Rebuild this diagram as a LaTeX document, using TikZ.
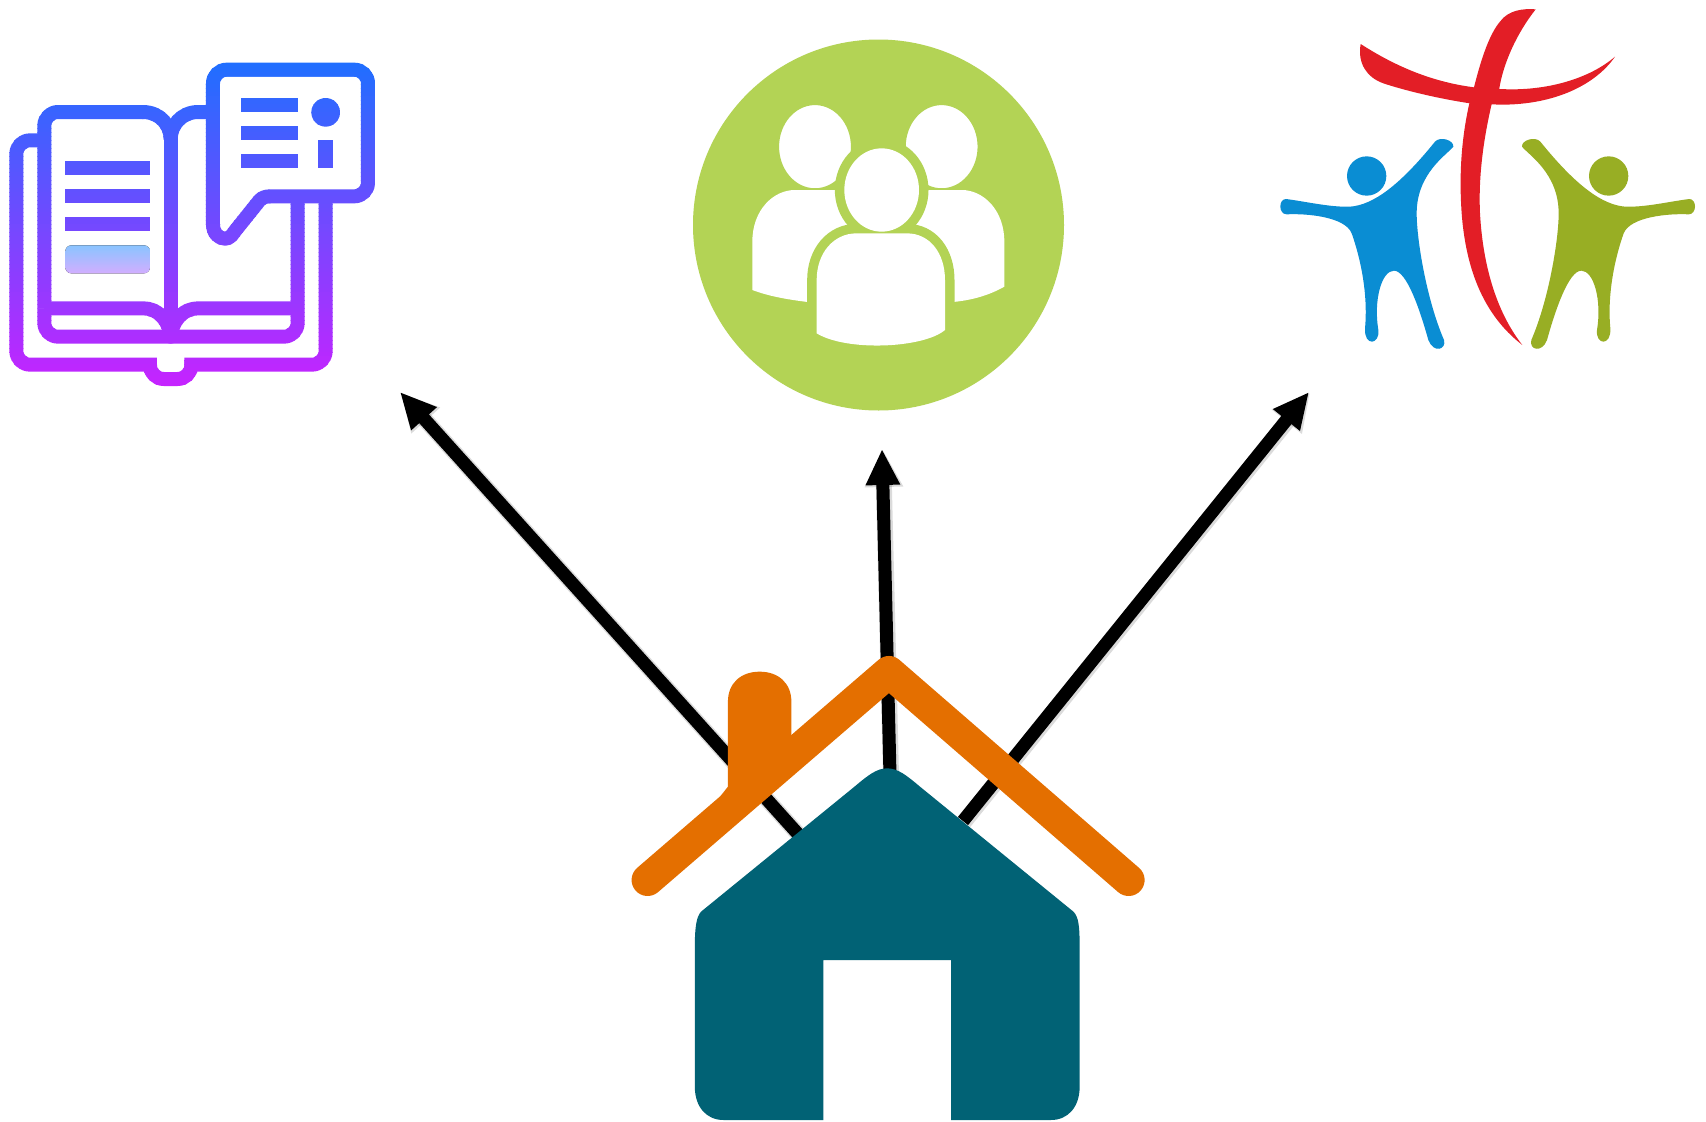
\documentclass[tikz,border=0pt]{standalone}
\usetikzlibrary{arrows.meta}
\definecolor{bookTop}{HTML}{1F6FFF}
\definecolor{bookBot}{HTML}{C822FF}
\definecolor{barTop}{HTML}{8AC4FF}
\definecolor{barBot}{HTML}{D2AEFF}
\definecolor{teamGreen}{HTML}{B3D355}
\definecolor{crossRed}{HTML}{E31E26}
\definecolor{kidBlue}{HTML}{0A8DD3}
\definecolor{kidGreen}{HTML}{98AE24}
\definecolor{houseTeal}{HTML}{016275}
\definecolor{roofOrange}{HTML}{E46F00}
\tikzset{
  iconline/.style={line width=14pt,line join=round},
  connector/.style={line width=13pt,-{Triangle[length=36pt,width=32pt]}},
  connshadow/.style={line width=16pt,-{Triangle[length=37pt,width=36pt]},black,opacity=.14},
  roofline/.style={draw=roofOrange,line width=32pt,line cap=round,line join=round},
}
% book icon, in zoomed units; strokes take the current colour
\newcommand{\bookicon}{%
  % back cover
  \draw[iconline,rounded corners=13.7pt] (140,271) -- (49,271) -- (49,944) -- (471,944);
  \draw[iconline,rounded corners=13.7pt] (450,930) -- (450,987) -- (574,987) -- (574,930);
  \draw[iconline,rounded corners=13.7pt] (553,944) -- (977,944) -- (977,440);
  % pages
  \draw[iconline,rounded corners=13.7pt] (133,775) -- (133,186) -- (430,186);
  \draw[iconline] (428,186) .. controls (480,186) and (512,225) .. (512,268);
  \draw[iconline] (512,268) .. controls (512,225) and (545,186) .. (595,186) -- (630,186);
  \draw[iconline] (512,268) -- (512,860);
  \draw[iconline,rounded corners=13.7pt] (133,775) -- (133,860) -- (893,860) -- (893,440);
  \draw[iconline] (133,775) -- (430,775) .. controls (470,775) and (505,805) .. (512,860)
    .. controls (519,805) and (554,775) .. (595,775) -- (893,775);
  % speech bubble
  \draw[iconline,rounded corners=13.7pt] (639,525) -- (639,59) -- (1104,59) -- (1104,439) -- (806,439);
  \draw[iconline] (810,439) .. controls (795,439) and (785,444) .. (778,452)
    -- (705,543) .. controls (695,558) and (687,566) .. (675,566)
    .. controls (655,566) and (639,548) .. (639,523);
  % text bars
  \fill (196,334) rectangle (450,376);
  \fill (196,418) rectangle (450,460);
  \fill (196,502) rectangle (450,544);
  \fill (723,144) rectangle (893,187);
  \fill (723,229) rectangle (893,271);
  \fill (723,313) rectangle (893,355);
  \fill (955,271) rectangle (998,355);
  \fill (977,187) circle[radius=43];
}
\newcommand{\kid}{%
  \fill (290,528) circle[radius=59];
  \fill (48,597) .. controls (110,605) and (180,622) .. (240,620)
    .. controls (310,615) and (390,555) .. (495,425)
    .. controls (510,408) and (552,420) .. (550,440)
    .. controls (530,465) and (440,520) .. (440,640)
    .. controls (440,720) and (470,900) .. (522,1020)
    .. controls (530,1050) and (490,1060) .. (475,1020)
    .. controls (450,930) and (410,812) .. (372,812)
    .. controls (335,812) and (310,900) .. (325,990)
    .. controls (330,1035) and (282,1040) .. (285,985)
    .. controls (295,880) and (270,770) .. (245,700)
    .. controls (225,650) and (110,640) .. (50,643)
    .. controls (25,643) and (25,597) .. (48,597) -- cycle;
}
\newcommand{\frontbody}{(410,940) -- (410,780)
    .. controls (410,700) and (460,640) .. (530,640) -- (680,640)
    .. controls (750,640) and (795,700) .. (795,780) -- (795,930)
    .. controls (730,985) and (500,995) .. (410,940) -- cycle}
\begin{document}
\begin{tikzpicture}[x=1pt,y=-1pt]
\useasboundingbox (0,0) rectangle (1706,1122);
\fill[white] (0,0) rectangle (1706,1122);

% named ends of the connectors
\coordinate (houseL) at (798,834);
\coordinate (houseC) at (890,775);
\coordinate (houseR) at (963,821);
\coordinate (tipBook) at (400,392);
\coordinate (tipGroup) at (882,449);
\coordinate (tipChurch) at (1309,392);

% connectors
\draw[connshadow] ([shift={(1,1)}]houseL) -- ([shift={(1,1)}]tipBook);
\draw[connshadow] ([shift={(1,1)}]houseC) -- ([shift={(1,1)}]tipGroup);
\draw[connshadow] ([shift={(1,1)}]houseR) -- ([shift={(1,1)}]tipChurch);
\draw[connector] (houseL) -- (tipBook);
\draw[connector] (houseC) -- (tipGroup);
\draw[connector] (houseR) -- (tipChurch);

% book icon: gradient built from thin bands
\begin{scope}[shift={(0,50)},scale=1/3]
  \foreach \i in {0,...,82}{
    \pgfmathsetmacro\t{100*\i/82}
    \pgfmathsetmacro\ya{30+12*\i}
    \pgfmathsetmacro\yb{\ya+13.5}
    \colorlet{bandcol}{bookBot!\t!bookTop}
    \begin{scope}[color=bandcol]
      \clip (0,\ya) rectangle (1200,\yb);
      \bookicon
    \end{scope}
  }
  \fill[rounded corners=6pt,top color=barTop,bottom color=barBot]
    (196,586) rectangle (450,670);
\end{scope}

% group icon
\fill[teamGreen] (878.5,225) circle[radius=185.5];
\begin{scope}[shift={(680,20)},scale=1/3]
  \filldraw[white,draw=teamGreen,line width=1.5pt] (405,380) ellipse[x radius=110,y radius=127];
  \filldraw[white,draw=teamGreen,line width=1.5pt] (785,380) ellipse[x radius=110,y radius=127];
  \fill[white] (217,810) -- (217,665) .. controls (217,570) and (280,510) .. (345,510)
    -- (845,510) .. controls (910,510) and (973,570) .. (973,665) -- (973,800)
    .. controls (920,830) and (860,845) .. (790,848) -- (400,848)
    .. controls (330,840) and (270,830) .. (217,810) -- cycle;
  \draw[teamGreen,line width=19pt] (605,510) ellipse[x radius=112,y radius=125];
  \draw[teamGreen,line width=19pt] \frontbody;
  \fill[white] (605,510) ellipse[x radius=112,y radius=125];
  \fill[white] \frontbody;
\end{scope}

% church logo
\begin{scope}[shift={(1270,0)},scale=1/3]
  \fill[crossRed] (797,28) .. controls (740,100) and (700,190) .. (688,265) -- (665,312)
    .. controls (640,420) and (625,530) .. (630,640)
    .. controls (640,820) and (690,950) .. (757,1035)
    .. controls (660,960) and (590,840) .. (575,640)
    .. controls (565,500) and (580,390) .. (598,310) -- (612,262)
    .. controls (635,170) and (660,100) .. (690,65)
    .. controls (715,30) and (760,25) .. (797,28) -- cycle;
  \fill[crossRed] (272,132) .. controls (370,195) and (480,245) .. (612,262) -- (690,267)
    .. controls (830,275) and (960,235) .. (1035,170)
    .. controls (980,250) and (860,315) .. (690,314) -- (600,310)
    .. controls (500,295) and (400,270) .. (340,250)
    .. controls (290,232) and (262,190) .. (272,132) -- cycle;
  \begin{scope}[color=kidBlue]\kid\end{scope}
\end{scope}
\begin{scope}[shift={(1705.33,0)},xscale=-1/3,yscale=1/3,color=kidGreen]
  \kid
\end{scope}

% house
\begin{scope}[shift={(620,640)},xscale=1/2.9,yscale=1/3]
  \fill[houseTeal] (590,1440) -- (300,1440) .. controls (250,1440) and (217,1400) .. (217,1340)
    -- (217,920) .. controls (217,860) and (222,830) .. (235,815)
    -- (680,440)
    .. controls (720,405) and (745,385) .. (775,385)
    .. controls (805,385) and (830,405) .. (870,440)
    -- (1315,815)
    .. controls (1330,830) and (1333,860) .. (1333,920)
    -- (1333,1340) .. controls (1333,1400) and (1300,1440) .. (1250,1440)
    -- (960,1440) -- (960,960) -- (590,960) -- cycle;
  \draw[roofline] (80,720) -- (780,96) -- (1475,720);
  \fill[roofOrange] (290,470) -- (313,440) -- (313,185) .. controls (313,130) and (350,95) .. (405,95)
    .. controls (460,95) and (497,130) .. (497,185) -- (497,300) -- (400,400) -- cycle;
\end{scope}
\end{tikzpicture}
\end{document}
